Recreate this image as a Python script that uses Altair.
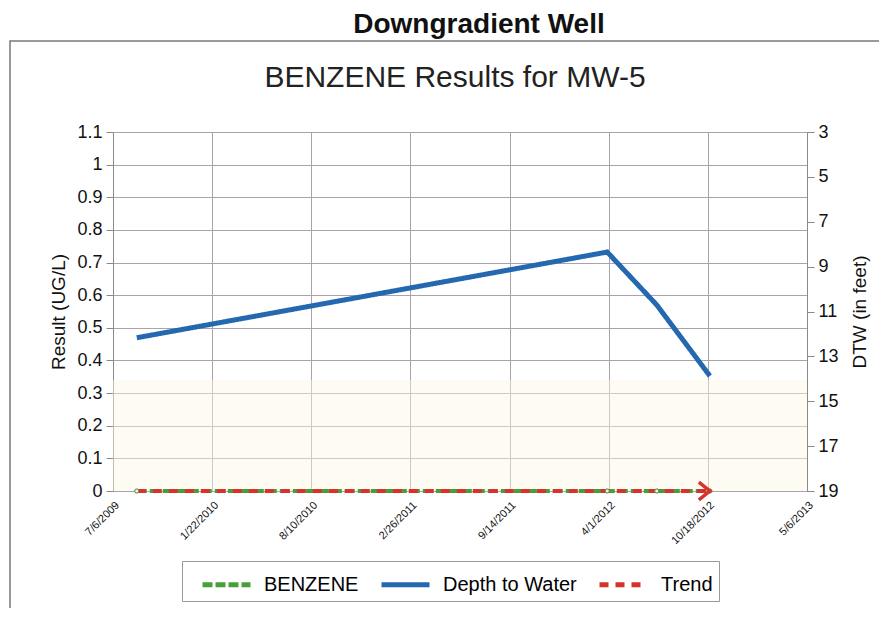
import altair as alt
import pandas as pd

# ---------------- data ----------------
series_names = ["BENZENE", "Depth to Water", "Trend"]
series_colors = ["#45a03a", "#2468b0", "#d8322c"]

sample_dates = ["2009-08-23", "2012-03-29", "2012-07-07", "2012-10-22"]
dtw_feet = [12.17, 8.35, 10.71, 13.87]
benzene_ugl = [0, 0, 0, 0]
trend_dates = ["2009-08-23", "2012-10-22"]
trend_ugl = [0, 0]

tick_dates = ["2009-07-06", "2010-01-22", "2010-08-10", "2011-02-26",
              "2011-09-14", "2012-04-01", "2012-10-18", "2013-05-06"]
left_ticks = [0, 0.1, 0.2, 0.3, 0.4, 0.5, 0.6, 0.7, 0.8, 0.9, 1, 1.1]
right_ticks = [3, 5, 7, 9, 11, 13, 15, 17, 19]

main_title = "Downgradient Well"
chart_title = "BENZENE Results for MW-5"
left_title = "Result (UG/L)"
right_title = "DTW (in feet)"

# ---------------- tables ----------------
benz_df = pd.DataFrame({"date": sample_dates, "value": benzene_ugl, "series": "BENZENE"})
trend_df = pd.DataFrame({"date": trend_dates, "value": trend_ugl, "series": "Trend"})
depth_df = pd.DataFrame({"date": sample_dates, "value": dtw_feet, "series": "Depth to Water"})


def dt(s):
    y, m, d = (int(p) for p in s.split("-"))
    return alt.DateTime(year=y, month=m, date=d, utc=True)


W, H = 694, 359
FONT = "Liberation Sans"
GRID = "#aaa2ad"

x_enc = alt.X(
    "date:T",
    scale=alt.Scale(type="utc", domain=[dt(tick_dates[0]), dt(tick_dates[-1])], nice=False),
    axis=alt.Axis(values=[dt(t) for t in tick_dates], format="%-m/%-d/%Y", labelAngle=315,
                  labelFontSize=11, labelPadding=8, tickSize=0, title=None,
                  grid=True, gridColor=GRID, domainColor=GRID),
)

left_scale = alt.Scale(domain=[0, 1.1], nice=False, zero=False)
left_axis = alt.Axis(orient="left", values=left_ticks, format="~g", title=left_title,
                     labelFontSize=18, titleFontSize=19, titleFontWeight="normal",
                     tickSize=7, tickColor="#8a8a8a", domainColor="#8a8a8a",
                     labelPadding=4, titlePadding=8, grid=True, gridColor=GRID)

color_scale = alt.Scale(domain=series_names, range=series_colors)
dash_scale = alt.Scale(domain=series_names, range=[[10, 3], [1, 0], [9, 7]])
legend = alt.Legend(orient="none", legendX=69, legendY=429, direction="horizontal",
                    title=None, labelFontSize=20, labelFont=FONT,
                    symbolType="M-1.6,0H1.6", symbolSize=900, symbolStrokeWidth=5,
                    symbolOffset=21, labelOffset=20, columnPadding=8, padding=6,
                    strokeColor="#9a9a9a", fillColor="white")

color_enc = alt.Color("series:N", scale=color_scale, legend=legend)
dash_enc = alt.StrokeDash("series:N", scale=dash_scale, legend=legend)

# faint background tint in lower part of plot
tint = alt.Chart(pd.DataFrame({"lo": [0], "hi": [0.34]})).mark_rect(
    fill="#fcf7e2", opacity=0.45
).encode(y=alt.Y("lo:Q", scale=left_scale, axis=left_axis), y2="hi:Q",
         x=alt.value(0), x2=alt.value(W))

benz_line = alt.Chart(benz_df).mark_line(strokeWidth=4).encode(
    x=x_enc, y=alt.Y("value:Q", scale=left_scale, axis=left_axis),
    color=color_enc, strokeDash=dash_enc)

benz_pts = alt.Chart(benz_df).mark_point(filled=True, size=18, fill="#eeeeee",
                                          stroke="#4a8f3a", strokeWidth=1, opacity=1).encode(
    x=x_enc, y=alt.Y("value:Q", scale=left_scale, axis=left_axis))

trend_line = alt.Chart(trend_df).mark_line(strokeWidth=4).encode(
    x=x_enc, y=alt.Y("value:Q", scale=left_scale, axis=left_axis),
    color=color_enc, strokeDash=dash_enc)

trend_arrow = alt.Chart(trend_df.tail(1)).mark_point(
    shape="M-1,-0.8L0,0L-1,0.8", size=484, filled=False, stroke="#d8322c",
    strokeWidth=3.5, opacity=1).encode(
    x=x_enc, y=alt.Y("value:Q", scale=left_scale, axis=left_axis))

left_layer = alt.layer(tint, benz_line, trend_line, benz_pts, trend_arrow)

depth_line = alt.Chart(depth_df).mark_line(strokeWidth=5).encode(
    x=x_enc,
    y=alt.Y("value:Q", scale=alt.Scale(domain=[3, 19], reverse=True, nice=False, zero=False),
            axis=alt.Axis(orient="right", values=right_ticks, title=right_title,
                          labelFontSize=18, titleFontSize=19, titleFontWeight="normal",
                          titleAngle=270, titleBaseline="top", tickSize=7,
                          tickColor="#8a8a8a", domainColor="#8a8a8a", labelPadding=4,
                          titlePadding=12, grid=False)),
    color=color_enc, strokeDash=dash_enc)

border = alt.Chart(pd.DataFrame({"a": [0]})).mark_rect(
    fillOpacity=0, stroke="#7a7a7a", strokeWidth=1.5
).encode(x=alt.value(-103), x2=alt.value(800), y=alt.value(-91), y2=alt.value(620))

t1 = alt.Chart(pd.DataFrame({"t": [main_title]})).mark_text(
    font=FONT, fontSize=28, fontWeight="bold", baseline="alphabetic", align="center",
    color="#111111"
).encode(text="t:N", x=alt.value(366), y=alt.value(-99))

t2 = alt.Chart(pd.DataFrame({"t": [chart_title]})).mark_text(
    font=FONT, fontSize=30, baseline="alphabetic", align="center", color="#222222"
).encode(text="t:N", x=alt.value(342), y=alt.value(-45))

chart = alt.layer(border, t1, t2, left_layer, depth_line).resolve_scale(
    y="independent"
).properties(
    width=W, height=H,
    autosize=alt.AutoSizeParams(type="none"),
    padding={"left": 105, "top": 124, "right": 72, "bottom": 117},
).configure(font=FONT).configure_view(strokeWidth=0).configure_axis(
    labelFont=FONT, titleFont=FONT, labelColor="#111111", titleColor="#111111"
)

chart.save("out.html", embed_options={"renderer": "svg", "actions": False})
